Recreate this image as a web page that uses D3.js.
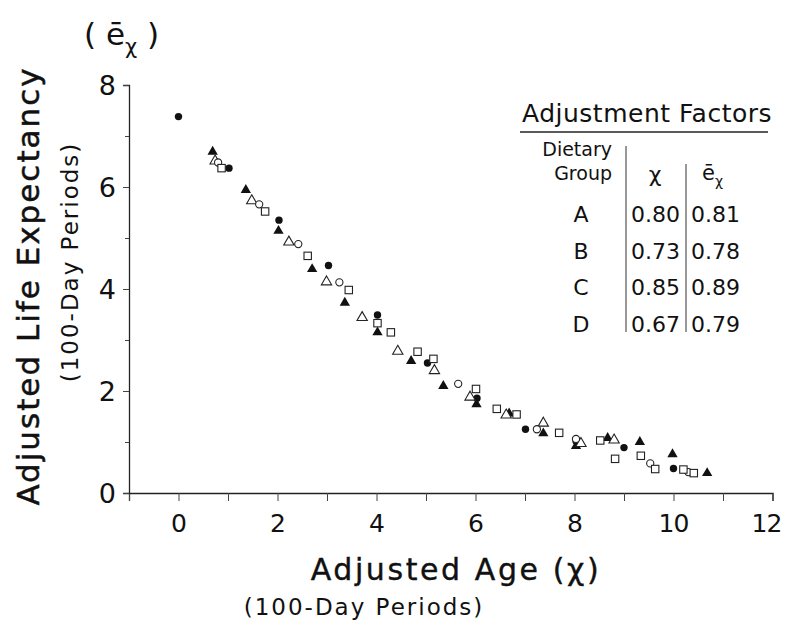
<!DOCTYPE html>
<html>
<head>
<meta charset="utf-8">
<script src="https://cdn.jsdelivr.net/npm/d3@7"></script>
<style>
    body { margin: 0; background: #fff; }
    svg { display: block; }
    text { font-family: 'DejaVu Sans', 'Liberation Sans', sans-serif; fill: #111; }
</style>
</head>
<body>
<div id="chart"></div>
<script>
// Scatter data, one array per marker type: [adjusted age, adjusted life expectancy]
const filledCircles = [
    [0.0, 7.38], [1.02, 6.37], [2.03, 5.35], [3.03, 4.46], [4.02, 3.49], [5.03, 2.55],
    [6.03, 1.86], [7.01, 1.25], [8.03, 1.02], [9.0, 0.89], [10.0, 0.48]
];
const filledTriangles = [
    [0.69, 6.69], [1.36, 5.94], [2.02, 5.14], [2.70, 4.39], [3.36, 3.73], [4.02, 3.15],
    [4.70, 2.59], [5.35, 2.10], [6.02, 1.74], [6.68, 1.56], [7.37, 1.17], [8.03, 0.92],
    [8.67, 1.08], [9.32, 1.0], [9.98, 0.76], [10.68, 0.39]
];
const openTriangles = [
    [0.74, 6.51], [1.48, 5.73], [2.23, 4.92], [2.99, 4.14], [3.71, 3.44], [4.43, 2.78],
    [5.17, 2.40], [5.89, 1.88], [6.62, 1.53], [7.37, 1.37], [8.13, 0.97], [8.80, 1.04]
];
const openCircles = [
    [0.80, 6.48], [1.63, 5.66], [2.42, 4.88], [3.25, 4.13], [5.65, 2.14], [7.24, 1.25],
    [8.03, 1.06], [9.53, 0.58], [10.3, 0.41]
];
const openSquares = [
    [0.87, 6.37], [1.75, 5.52], [2.61, 4.65], [3.44, 3.98], [4.02, 3.33], [4.29, 3.15],
    [4.83, 2.77], [5.15, 2.63], [6.01, 2.04], [6.43, 1.65], [6.83, 1.54], [7.69, 1.18],
    [8.52, 1.03], [8.82, 0.67], [9.34, 0.73], [9.63, 0.47], [10.2, 0.46], [10.41, 0.39]
];

// Axis ticks
const xTicks = [0, 2, 4, 6, 8, 10, 12];
const xMinorTicks = [-1, 1, 3, 5, 7, 9, 11];
const yTicks = [0, 2, 4, 6, 8];
const yMinorTicks = [1, 3, 5, 7];

// Adjustment factor table
const groups = ['A', 'B', 'C', 'D'];
const ageFactors = ['0.80', '0.73', '0.85', '0.67'];
const expectancyFactors = ['0.81', '0.78', '0.89', '0.79'];

const width = 786;
const height = 624;

const svg = d3.select('#chart')
    .append('svg')
    .attr('width', width)
    .attr('height', height);

// Scales
const x = d3.scaleLinear().domain([-1, 12]).range([129, 772.5]);
const y = d3.scaleLinear().domain([0, 8]).range([493, 85]);

// X axis
svg.append('g')
    .attr('class', 'x-axis')
    .attr('transform', `translate(0,${y(0)})`)
    .call(d3.axisBottom(x).tickValues(xTicks.concat(xMinorTicks)).tickSize(8).tickFormat(''))
    .call(g => g.select('.domain').attr('stroke', '#222').attr('stroke-width', 1.3));

svg.append('g')
    .attr('class', 'x-labels')
    .selectAll('text')
    .data(xTicks)
    .join('text')
    .attr('x', d => x(d))
    .attr('dx', d => d === 12 ? -6 : 0)
    .attr('y', 532)
    .attr('text-anchor', 'middle')
    .attr('font-size', 25)
    .attr('letter-spacing', -1)
    .text(d => d);

// Y axis
svg.append('g')
    .attr('class', 'y-axis')
    .attr('transform', `translate(${x(-1)},0)`)
    .call(d3.axisLeft(y).tickValues(yTicks).tickSize(6).tickFormat(''))
    .call(g => g.select('.domain').attr('stroke', '#222').attr('stroke-width', 1.3));

svg.append('g')
    .attr('class', 'y-minor')
    .attr('transform', `translate(${x(-1)},0)`)
    .call(d3.axisLeft(y).tickValues(yMinorTicks).tickSize(4).tickFormat(''))
    .call(g => g.select('.domain').remove());

svg.selectAll('.tick line').attr('stroke', '#444');

svg.append('g')
    .attr('class', 'y-labels')
    .selectAll('text')
    .data(yTicks)
    .join('text')
    .attr('x', 116)
    .attr('y', d => y(d) + 10)
    .attr('text-anchor', 'end')
    .attr('font-size', 27)
    .text(d => d);

// Axis titles
svg.append('text')
    .attr('x', 456)
    .attr('y', 580)
    .attr('text-anchor', 'middle')
    .attr('font-size', 30)
    .attr('letter-spacing', 2.6)
    .attr('stroke', '#111')
    .attr('stroke-width', 0.4)
    .text('Adjusted Age (χ)');

svg.append('text')
    .attr('x', 364)
    .attr('y', 615)
    .attr('text-anchor', 'middle')
    .attr('font-size', 23)
    .attr('letter-spacing', 2)
    .text('(100-Day Periods)');

svg.append('text')
    .attr('transform', 'translate(39,286) rotate(-90)')
    .attr('text-anchor', 'middle')
    .attr('font-size', 31)
    .attr('letter-spacing', 2)
    .attr('stroke', '#111')
    .attr('stroke-width', 0.5)
    .text('Adjusted Life Expectancy');

svg.append('text')
    .attr('transform', 'translate(78,262) rotate(-90)')
    .attr('text-anchor', 'middle')
    .attr('font-size', 23)
    .attr('letter-spacing', 2)
    .text('(100-Day Periods)');

const eLabel = svg.append('text')
    .attr('x', 84)
    .attr('y', 45)
    .attr('font-size', 31);
eLabel.append('tspan').text('( ē');
eLabel.append('tspan').attr('font-size', 21).attr('dy', 9).text('χ');
eLabel.append('tspan').attr('dy', -9).text(' )');

// Markers
const markers = svg.append('g').attr('class', 'markers');
const triangle = d3.symbol().type(d3.symbolTriangle).size(46);

markers.append('g')
    .selectAll('circle')
    .data(filledCircles)
    .join('circle')
    .attr('cx', d => x(d[0]))
    .attr('cy', d => y(d[1]))
    .attr('r', 3.7)
    .attr('fill', '#111');

markers.append('g')
    .selectAll('path')
    .data(filledTriangles)
    .join('path')
    .attr('d', triangle)
    .attr('transform', d => `translate(${x(d[0])},${y(d[1])})`)
    .attr('fill', '#111');

markers.append('g')
    .selectAll('path')
    .data(openTriangles)
    .join('path')
    .attr('d', triangle)
    .attr('transform', d => `translate(${x(d[0])},${y(d[1])})`)
    .attr('fill', '#fff')
    .attr('stroke', '#222')
    .attr('stroke-width', 1.1);

markers.append('g')
    .selectAll('circle')
    .data(openCircles)
    .join('circle')
    .attr('cx', d => x(d[0]))
    .attr('cy', d => y(d[1]))
    .attr('r', 3.6)
    .attr('fill', '#fff')
    .attr('stroke', '#222')
    .attr('stroke-width', 1.1);

markers.append('g')
    .selectAll('rect')
    .data(openSquares)
    .join('rect')
    .attr('x', d => x(d[0]) - 3.7)
    .attr('y', d => y(d[1]) - 3.7)
    .attr('width', 7.4)
    .attr('height', 7.4)
    .attr('fill', '#fff')
    .attr('stroke', '#222')
    .attr('stroke-width', 1.1);

// Adjustment factor table
const table = svg.append('g').attr('class', 'table');

table.append('text')
    .attr('x', 522)
    .attr('y', 122)
    .attr('font-size', 25)
    .attr('letter-spacing', 0.5)
    .text('Adjustment Factors');

table.append('line')
    .attr('x1', 520).attr('x2', 768)
    .attr('y1', 132).attr('y2', 132)
    .attr('stroke', '#222').attr('stroke-width', 1.3);

table.append('text')
    .attr('x', 612).attr('y', 156)
    .attr('text-anchor', 'end')
    .attr('font-size', 19)
    .text('Dietary');

table.append('text')
    .attr('x', 612).attr('y', 180)
    .attr('text-anchor', 'end')
    .attr('font-size', 19)
    .text('Group');

table.append('text')
    .attr('x', 655).attr('y', 182)
    .attr('text-anchor', 'middle')
    .attr('font-size', 22)
    .text('χ');

const eHead = table.append('text')
    .attr('x', 702).attr('y', 180)
    .attr('font-size', 21);
eHead.append('tspan').text('ē');
eHead.append('tspan').attr('font-size', 14).attr('dy', 6).text('χ');

const rowY = d3.scalePoint().domain(groups).range([222, 332]);

table.append('g')
    .selectAll('text')
    .data(groups)
    .join('text')
    .attr('x', 581)
    .attr('y', d => rowY(d))
    .attr('text-anchor', 'middle')
    .attr('font-size', 22)
    .text(d => d);

table.append('g')
    .selectAll('text')
    .data(ageFactors)
    .join('text')
    .attr('x', 631)
    .attr('y', (d, i) => rowY(groups[i]))
    .attr('font-size', 22)
    .text(d => d);

table.append('g')
    .selectAll('text')
    .data(expectancyFactors)
    .join('text')
    .attr('x', 691)
    .attr('y', (d, i) => rowY(groups[i]))
    .attr('font-size', 22)
    .text(d => d);

table.append('line')
    .attr('x1', 626).attr('x2', 626)
    .attr('y1', 146).attr('y2', 332)
    .attr('stroke', '#333').attr('stroke-width', 1);

table.append('line')
    .attr('x1', 686).attr('x2', 686)
    .attr('y1', 164).attr('y2', 332)
    .attr('stroke', '#333').attr('stroke-width', 1);
</script>
</body>
</html>
